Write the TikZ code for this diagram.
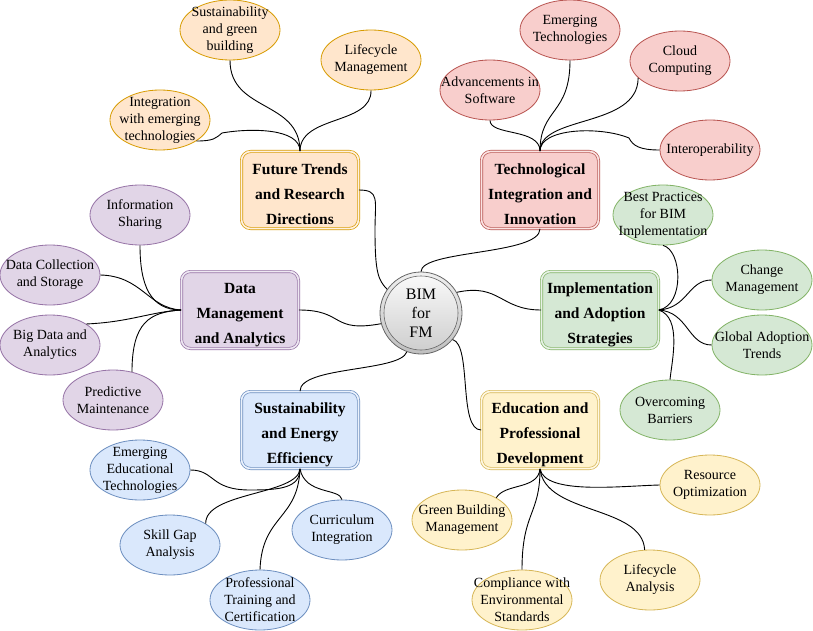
\documentclass[tikz,border=0pt]{standalone}
\usepackage{fontspec}
\setmainfont{Liberation Serif}
\usetikzlibrary{shapes.geometric}
\definecolor{orF}{HTML}{FFE6CC}\definecolor{orD}{HTML}{D79B00}
\definecolor{redF}{HTML}{F8CECC}\definecolor{redD}{HTML}{B85450}
\definecolor{purF}{HTML}{E1D5E7}\definecolor{purD}{HTML}{9673A6}
\definecolor{grnF}{HTML}{D5E8D4}\definecolor{grnD}{HTML}{82B366}
\definecolor{bluF}{HTML}{DAE8FC}\definecolor{bluD}{HTML}{6C8EBF}
\definecolor{yelF}{HTML}{FFF2CC}\definecolor{yelD}{HTML}{D6B656}
\newcommand\tpstrut{\rule{0pt}{20pt}}
\tikzset{
  lbl/.style={align=center, font=\fontsize{14}{17}\selectfont, inner sep=0pt},
  sub/.style={ellipse, draw=#1D, fill=#1F, minimum width=100pt, minimum height=60pt, inner sep=0pt, line width=0.8pt},
  topic/.style={rectangle, rounded corners=9pt, draw=#1D, fill=#1F, double=white!45!#1F, double distance=1.6pt, line width=0.7pt,
     minimum width=117pt, minimum height=77pt, align=center, inner sep=0pt, font=\bfseries\fontsize{15.5}{25}\selectfont},
  link/.style={draw=black, line width=0.9pt},
}
\begin{document}
\begin{tikzpicture}[x=1pt,y=-1pt]
\useasboundingbox (0,0) rectangle (813,631);
% center
\node[circle, draw=gray!80!black, line width=0.8pt, minimum size=82pt, inner sep=0pt, top color=gray!12, bottom color=gray!50] (c) at (421,313) {};
\node[circle, draw=gray!80!black, line width=0.6pt, minimum size=74pt, inner sep=0pt, top color=gray!5, bottom color=gray!38,
   label={[align=center, font=\fontsize{16}{19}\selectfont, inner sep=0pt]center:BIM\\for\\FM}] (ci) at (421,313) {};
% topics
\node[topic=or] (F) at (300,190) {\tpstrut Future Trends\\and Research\\Directions};
\node[topic=red] (T) at (540,190) {\tpstrut Technological\\Integration and\\Innovation};
\node[topic=pur] (D) at (240,310) {\tpstrut Data\\Management\\and Analytics};
\node[topic=grn] (I) at (600,310) {\tpstrut Implementation\\and Adoption\\Strategies};
\node[topic=blu] (S) at (300,430) {\tpstrut Sustainability\\and Energy\\Efficiency};
\node[topic=yel] (E) at (540,430) {\tpstrut Education and\\Professional\\Development};
% future subs
\node[sub=or, label={[lbl]center:Sustainability\\and green\\building}] (fs) at (230,30) {};
\node[sub=or, label={[lbl]center:Lifecycle\\Management}] (fl) at (371,60) {};
\node[sub=or, label={[lbl]center:Integration\\with emerging\\technologies}] (fi) at (160,120) {};
% tech subs
\node[sub=red, label={[lbl]center:Emerging\\Technologies}] (te) at (570,30) {};
\node[sub=red, label={[lbl]center:Cloud\\Computing}] (tc) at (680,61) {};
\node[sub=red, label={[lbl]center:Advancements in\\Software}] (ta) at (490,90) {};
\node[sub=red, label={[lbl]center:Interoperability}] (ti) at (710,150) {};
% data subs
\node[sub=pur, label={[lbl]center:Information\\Sharing}] (di) at (140,215) {};
\node[sub=pur, label={[lbl]center:Data Collection\\and Storage}] (dc) at (50,275) {};
\node[sub=pur, label={[lbl]center:Big Data and\\Analytics}] (db) at (50,345) {};
\node[sub=pur, label={[lbl]center:Predictive\\Maintenance}] (dp) at (113,400) {};
% impl subs
\node[sub=grn, label={[lbl]center:Best Practices\\for BIM\\Implementation}] (ib) at (663,215) {};
\node[sub=grn, label={[lbl]center:Change\\Management}] (ic) at (762,280) {};
\node[sub=grn, label={[lbl]center:Global Adoption\\Trends}] (ig) at (762,345) {};
\node[sub=grn, label={[lbl]center:Overcoming\\Barriers}] (io) at (670,410) {};
% sust subs
\node[sub=blu, label={[lbl]center:Emerging\\Educational\\Technologies}] (se) at (140,470) {};
\node[sub=blu, label={[lbl]center:Skill Gap\\Analysis}] (ss) at (170,545) {};
\node[sub=blu, label={[lbl]center:Curriculum\\Integration}] (sc) at (342,530) {};
\node[sub=blu, label={[lbl]center:Professional\\Training and\\Certification}] (sp) at (260,600) {};
% edu subs
\node[sub=yel, label={[lbl]center:Resource\\Optimization}] (er) at (710,485) {};
\node[sub=yel, label={[lbl]center:Green Building\\Management}] (eg) at (462,520) {};
\node[sub=yel, label={[lbl]center:Compliance with\\Environmental\\Standards}] (ec) at (522,600) {};
\node[sub=yel, label={[lbl]center:Lifecycle\\Analysis}] (el) at (650,580) {};
% main links
\draw[link] (F.east) .. controls (380,190) and (375,200) .. (375,230) .. controls (375,272) and (378,280) .. (c.145);
\draw[link] (c.north) .. controls (421,250) and (540,255) .. (T.south);
\draw[link] (D.east) .. controls (345,310) and (330,333) .. (c.195);
\draw[link] (c.30) .. controls (500,283) and (500,310) .. (I.west);
\draw[link] (S.north) .. controls (300,366) and (400,372) .. (c.250);
\draw[link] (c.-40) .. controls (472,345) and (458,430) .. (E.west);
% future links
\draw[link] (F.north) .. controls (300,100) and (230,112) .. (fs.south);
\draw[link] (F.north) .. controls (300,115) and (372,125) .. (fl.south);
\draw[link] (F.north) .. controls (300,128) and (250,128) .. (222,133) .. controls (216,138) and (214,141) .. (fi.-30);
% tech links
\draw[link] (T.north) .. controls (540,128) and (490,136) .. (ta.south);
\draw[link] (T.north) .. controls (540,108) and (570,115) .. (te.south);
\draw[link] (T.north) .. controls (540,115) and (638,128) .. (tc.202);
\draw[link] (T.north) .. controls (540,128) and (600,126) .. (629,138) .. controls (633,146) and (640,150) .. (ti.west);
% data links
\draw[link] (D.west) .. controls (150,310) and (140,285) .. (di.south);
\draw[link] (D.west) .. controls (148,308) and (142,276) .. (dc.east);
\draw[link] (D.west) .. controls (150,312) and (130,322) .. (db.30);
\draw[link] (D.west) .. controls (150,312) and (132,322) .. (dp.56);
% impl links
\draw[link] (I.east) .. controls (685,305) and (682,250) .. (ib.south);
\draw[link] (I.east) .. controls (688,308) and (688,280) .. (ic.west);
\draw[link] (I.east) .. controls (688,312) and (688,345) .. (ig.west);
\draw[link] (I.east) .. controls (682,318) and (672,360) .. (io.north);
% sust links
\draw[link] (S.south) .. controls (300,488) and (280,490) .. (250,490) .. controls (210,490) and (215,470) .. (se.east);
\draw[link] (S.south) .. controls (298,495) and (205,492) .. (ss.31);
\draw[link] (S.south) .. controls (305,495) and (340,488) .. (sc.north);
\draw[link] (S.south) .. controls (298,520) and (262,515) .. (sp.north);
% edu links
\draw[link] (E.south) .. controls (545,495) and (620,486) .. (er.west);
\draw[link] (E.south) .. controls (538,490) and (505,483) .. (eg.33);
\draw[link] (E.south) .. controls (540,515) and (522,512) .. (ec.north);
\draw[link] (E.south) .. controls (545,515) and (642,505) .. (el.100);
\end{tikzpicture}
\end{document}
